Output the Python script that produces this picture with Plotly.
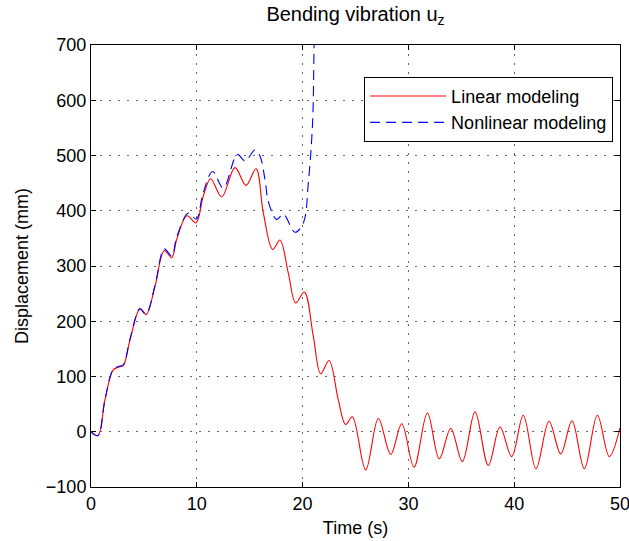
import plotly.graph_objects as go

lin_t = [0, 0.65, 1.32, 2.1, 2.6, 3.05, 3.69, 4.63, 5.2, 6.05, 6.93, 7.63, 8.1, 9.07, 9.92,
         10.61, 11.31, 12.35, 13.61, 14.65, 15.6, 16.29, 17.17, 17.86, 18.65, 19.35, 20.16,
         21.01, 21.71, 22.5, 23.37, 24.07, 24.7, 25.96, 27.16, 28.33, 29.37, 30.53, 31.79,
         32.92, 34.0, 35.1, 36.3, 37.55, 38.66, 39.76, 40.86, 42.06, 43.29, 44.4, 45.46,
         46.63, 47.86, 48.99, 50]
lin_u = [0, -7, 58, 112, 117, 120, 167, 222, 212, 263, 328, 315, 348, 391, 378,
         426, 458, 425, 478, 446, 476, 396, 330, 347, 287, 233, 253,
         173, 105, 129, 58, 13, 27, -69, 24, -41, 14.5, -64, 34,
         -49, 6, -54, 36, -61, 8.5, -45, 30, -67, 19, -40, 20,
         -67, 30, -45, 7]

# Nonlinear modeling
nl_t = [0, 0.65, 1.32, 2.1, 2.6, 3.05, 3.69, 4.63, 5.2, 6.05, 6.93, 7.63, 8.1, 9.2, 9.95,
        10.6, 11.5, 12.5, 13.83, 14.56, 15.5, 15.97, 16.45, 16.76, 17.55, 18.18, 19.28,
        20.07, 20.54, 20.95, 21.08, 21.2]
nl_u = [0, -7, 58, 113, 118, 121, 168, 223, 213, 265, 331, 318, 352, 396, 385,
        432, 471, 441, 502, 490, 510, 499, 456, 417, 384, 394, 361,
        378, 450, 562, 692, 800]

x_ticks = [0, 10, 20, 30, 40, 50]
y_ticks = [-100, 0, 100, 200, 300, 400, 500, 600, 700]

FONT = "Liberation Sans, Arial, Helvetica, sans-serif"

fig = go.Figure()
fig.add_trace(go.Scatter(x=lin_t, y=lin_u, mode="lines", name="Linear modeling",
                         line=dict(color="#ff0000", width=1.1, shape="spline", smoothing=1)))
fig.add_trace(go.Scatter(x=nl_t, y=nl_u, mode="lines", name="Nonlinear modeling",
                         line=dict(color="#0000ff", width=1.1, shape="spline", smoothing=1,
                                   dash="10px,6px")))

axis_common = dict(showline=True, linecolor="black", linewidth=1, mirror="ticks",
                   ticks="inside", ticklen=5, tickcolor="black", ticklabeloverflow="allow",
                   automargin=False,
                   showgrid=True, gridcolor="rgba(0,0,0,0.6)", gridwidth=1, griddash="2px,7px",
                   zeroline=False, tickfont=dict(size=18, color="black", family=FONT))

fig.update_xaxes(range=[0, 50], tickvals=x_ticks, ticktext=[str(v) for v in x_ticks],
                 title=dict(text="Time (s)", font=dict(size=18, color="black", family=FONT), standoff=8),
                 **axis_common)
fig.update_yaxes(range=[-100, 700], tickvals=y_ticks,
                 ticktext=["\u2212100" if v < 0 else str(v) for v in y_ticks],
                 title=dict(text="Displacement (mm)", font=dict(size=18, color="black", family=FONT), standoff=12),
                 **axis_common)

fig.update_layout(
    width=629, height=541,
    margin=dict(l=91, r=9, t=45, b=54),
    paper_bgcolor="white", plot_bgcolor="white",
    font=dict(family=FONT, size=18, color="black"),
    title=dict(text="Bending vibration u<sub>z</sub>", x=(91 + 620) / 2 / 629, xanchor="center",
               y=1 - 14 / 541, yanchor="middle", font=dict(size=20, color="black", family=FONT)),
    legend=dict(x=0.987, y=0.928, xanchor="right", yanchor="top", bgcolor="white",
                bordercolor="black", borderwidth=1, font=dict(size=18, color="black", family=FONT),
                tracegroupgap=0, itemwidth=76),
    showlegend=True,
)

fig.write_html("out.html")
